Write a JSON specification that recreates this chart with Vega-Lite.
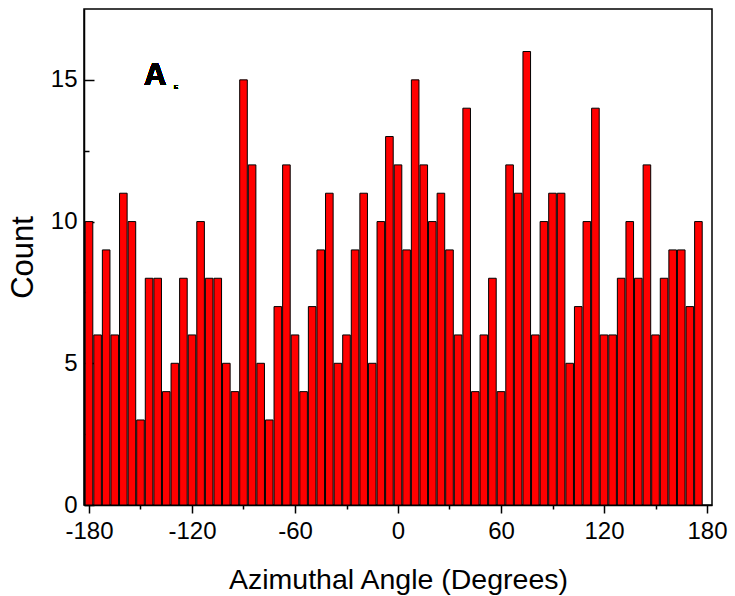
{
  "$schema": "https://vega.github.io/schema/vega-lite/v6.json",
  "width": 628,
  "height": 496,
  "autosize": "none",
  "padding": {"left": 84, "top": 9, "right": 23, "bottom": 91},
  "background": "white",
  "config": {
    "view": {"stroke": "black", "strokeWidth": 1.5},
    "font": "Liberation Sans",
    "axis": {"grid": false, "domainColor": "black", "domainWidth": 1.5, "tickColor": "black", "tickWidth": 1.5, "labelColor": "black", "titleColor": "black", "labelFont": "Liberation Sans", "titleFont": "Liberation Sans", "titleFontWeight": "normal"}
  },
  "data": {"values": [
    {"angle": -180, "count": 10}, {"angle": -175, "count": 6}, {"angle": -170, "count": 9}, {"angle": -165, "count": 6},
    {"angle": -160, "count": 11}, {"angle": -155, "count": 10}, {"angle": -150, "count": 3}, {"angle": -145, "count": 8},
    {"angle": -140, "count": 8}, {"angle": -135, "count": 4}, {"angle": -130, "count": 5}, {"angle": -125, "count": 8},
    {"angle": -120, "count": 6}, {"angle": -115, "count": 10}, {"angle": -110, "count": 8}, {"angle": -105, "count": 8},
    {"angle": -100, "count": 5}, {"angle": -95, "count": 4}, {"angle": -90, "count": 15}, {"angle": -85, "count": 12},
    {"angle": -80, "count": 5}, {"angle": -75, "count": 3}, {"angle": -70, "count": 7}, {"angle": -65, "count": 12},
    {"angle": -60, "count": 6}, {"angle": -55, "count": 4}, {"angle": -50, "count": 7}, {"angle": -45, "count": 9},
    {"angle": -40, "count": 11}, {"angle": -35, "count": 5}, {"angle": -30, "count": 6}, {"angle": -25, "count": 9},
    {"angle": -20, "count": 11}, {"angle": -15, "count": 5}, {"angle": -10, "count": 10}, {"angle": -5, "count": 13},
    {"angle": 0, "count": 12}, {"angle": 5, "count": 9}, {"angle": 10, "count": 15}, {"angle": 15, "count": 12},
    {"angle": 20, "count": 10}, {"angle": 25, "count": 11}, {"angle": 30, "count": 9}, {"angle": 35, "count": 6},
    {"angle": 40, "count": 14}, {"angle": 45, "count": 4}, {"angle": 50, "count": 6}, {"angle": 55, "count": 8},
    {"angle": 60, "count": 4}, {"angle": 65, "count": 12}, {"angle": 70, "count": 11}, {"angle": 75, "count": 16},
    {"angle": 80, "count": 6}, {"angle": 85, "count": 10}, {"angle": 90, "count": 11}, {"angle": 95, "count": 11},
    {"angle": 100, "count": 5}, {"angle": 105, "count": 7}, {"angle": 110, "count": 10}, {"angle": 115, "count": 14},
    {"angle": 120, "count": 6}, {"angle": 125, "count": 6}, {"angle": 130, "count": 8}, {"angle": 135, "count": 10},
    {"angle": 140, "count": 8}, {"angle": 145, "count": 12}, {"angle": 150, "count": 6}, {"angle": 155, "count": 8},
    {"angle": 160, "count": 9}, {"angle": 165, "count": 9}, {"angle": 170, "count": 7}, {"angle": 175, "count": 10}
  ]},
  "layer": [
    {
      "mark": {"type": "bar", "width": 7.6, "fill": "#ff0000", "stroke": "black", "strokeWidth": 1, "clip": true},
      "encoding": {
        "x": {
          "field": "angle", "type": "quantitative",
          "scale": {"domain": [-180, 180], "nice": false, "zero": false},
          "axis": {
            "values": [-180, -150, -120, -90, -60, -30, 0, 30, 60, 90, 120, 150, 180],
            "labelExpr": "datum.value % 60 === 0 ? '' + datum.value : ''",
            "tickSize": {"condition": {"test": "datum.value % 60 === 0", "value": 8}, "value": 4},
            "labelFontSize": 24, "labelPadding": 6, "labelFlush": false, "labelOverlap": false,
            "title": "Azimuthal Angle (Degrees)", "titleFontSize": 28.5,
            "titleY": 83, "titleBaseline": "alphabetic"
          }
        },
        "y": {
          "field": "count", "type": "quantitative",
          "scale": {"domain": [0, 17.5], "nice": false},
          "axis": {
            "values": [0, 2.5, 5, 7.5, 10, 12.5, 15],
            "labelExpr": "datum.value % 5 === 0 ? '' + datum.value : ''",
            "tickSize": {"condition": {"test": "datum.value % 5 === 0", "value": -10}, "value": -5},
            "labelFontSize": 24, "labelPadding": 17, "labelOverlap": false, "labelFlush": false,
            "title": "Count", "titleFontSize": 31,
            "titleX": -52, "titleBaseline": "alphabetic"
          }
        }
      }
    },
    {
      "mark": {"type": "text", "text": "A", "fontSize": 31, "fontWeight": "bold", "align": "center", "baseline": "alphabetic", "font": "Liberation Sans"},
      "encoding": {"x": {"datum": -141.5}, "y": {"datum": 14.82}}
    },
    {
      "mark": {"type": "text", "text": "E", "fontSize": 6, "align": "center", "baseline": "alphabetic", "font": "Liberation Sans"},
      "encoding": {"x": {"datum": -129.3}, "y": {"datum": 14.67}}
    }
  ]
}
